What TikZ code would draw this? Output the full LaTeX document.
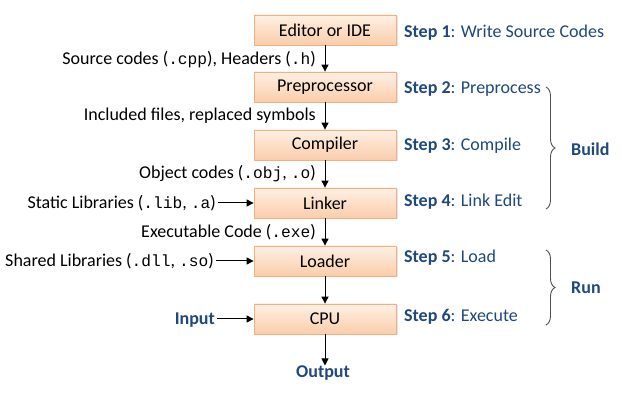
\documentclass[tikz,border=0pt]{standalone}
\usepackage{fontspec}
\setmainfont{Carlito}
\setmonofont{Liberation Mono}[Scale=0.9]
\usetikzlibrary{arrows.meta,shadows,decorations.pathreplacing}
\definecolor{stepblue}{RGB}{31,73,125}
\definecolor{boxedge}{RGB}{240,176,128}
\definecolor{boxtop}{RGB}{254,240,228}
\definecolor{boxbot}{RGB}{250,205,170}
\definecolor{bracegray}{RGB}{80,80,80}
\tikzset{
  stage/.style={draw=boxedge, line width=0.8pt, top color=boxtop, bottom color=boxbot,
    minimum width=142pt, minimum height=30pt, inner sep=0pt,
    drop shadow={shadow xshift=1.5pt, shadow yshift=-1.5pt, fill=gray!35, opacity=0.6},
    font=\fontsize{18}{21}\selectfont},
  flow/.style={-{Triangle[length=7pt,width=7pt]}, line width=1pt, black},
  lbl/.style={anchor=east, inner sep=0pt, font=\fontsize{18}{21}\selectfont},
  steplbl/.style={anchor=west, inner sep=0pt, text=stepblue, font=\fontsize{18}{21}\selectfont},
  bluebold/.style={inner sep=0pt, text=stepblue, font=\fontsize{18}{21}\selectfont\bfseries},
  bracer/.style={decorate, decoration={brace, amplitude=9pt}, draw=bracegray, line width=0.9pt}
}
\begin{document}
\begin{tikzpicture}[x=1pt,y=-1pt]
\path[fill=white, use as bounding box] (0,0) rectangle (622,395);
% boxes
\node[stage] (ed) at (325,30) {Editor or IDE};
\node[stage] (pp) at (325,87) {Preprocessor};
\node[stage] (cc) at (325,145) {Compiler};
\node[stage] (ln) at (325,203) {Linker};
\node[stage] (ld) at (325,261) {Loader};
\node[stage] (cpu) at (325,319) {CPU};
\node[bluebold] (out) at (323,373) {Output};
% vertical arrows
\draw[flow] (ed.south) -- (pp.north);
\draw[flow] (pp.south) -- (cc.north);
\draw[flow] (cc.south) -- (ln.north);
\draw[flow] (ln.south) -- (ld.north);
\draw[flow] (ld.south) -- (cpu.north);
\draw[flow] (cpu.south) -- (cpu.south |- out.north);
% left labels
\node[lbl] (l1) at (316,60) {Source codes (\texttt{.cpp}), Headers (\texttt{.h})};
\node[lbl] (l2) at (316,116) {Included files, replaced symbols};
\node[lbl] (l3) at (316,174) {Object codes (\texttt{.obj}, \texttt{.o})};
\node[lbl] (l4) at (216,203) {Static Libraries (\texttt{.lib}, \texttt{.a})};
\node[lbl] (l5) at (316,232) {Executable Code (\texttt{.exe})};
\node[lbl] (l6) at (214,261) {Shared Libraries (\texttt{.dll}, \texttt{.so})};
\node[bluebold, anchor=east] (in) at (215,320) {Input};
\draw[flow] ([xshift=2pt]l4.east |- ln.west) -- (ln.west);
\draw[flow] ([xshift=2pt]l6.east |- ld.west) -- (ld.west);
\draw[flow] ([xshift=2pt]in.east |- cpu.west) -- (cpu.west);
% step labels
\node[steplbl] (s1) at (404,33) {\textbf{Step 1}: Write Source Codes};
\node[steplbl] (s2) at (404,89) {\textbf{Step 2}: Preprocess};
\node[steplbl] (s3) at (404,146) {\textbf{Step 3}: Compile};
\node[steplbl] (s4) at (404,202) {\textbf{Step 4}: Link Edit};
\node[steplbl] (s5) at (404,258) {\textbf{Step 5}: Load};
\node[steplbl] (s6) at (404,317) {\textbf{Step 6}: Execute};
% braces
\coordinate (bt) at (546,87);
\coordinate (bb) at (546,209);
\coordinate (rt) at (546,250);
\coordinate (rb) at (546,325);
\draw[bracer] (bt) -- (bb);
\draw[bracer] (rt) -- (rb);
\node[bluebold, anchor=west] (build) at (571,149) {Build};
\node[bluebold, anchor=west] (run) at (571,288) {Run};
\end{tikzpicture}
\end{document}
